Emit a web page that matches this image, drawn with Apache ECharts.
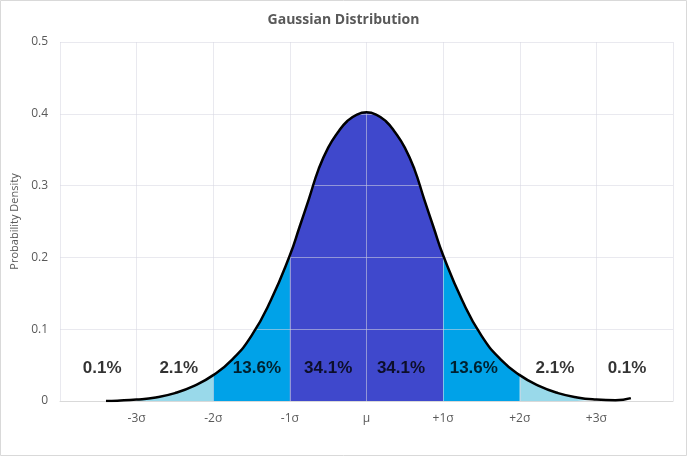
<!DOCTYPE html>
<html>
<head>
<meta charset="utf-8">
<script src="https://cdn.jsdelivr.net/npm/echarts@6/dist/echarts.min.js"></script>
<style>
    html, body { margin: 0; padding: 0; background: #fff; }
    #chart { width: 687px; height: 456px; }
</style>
</head>
<body>
<div id="chart"></div>
<script>
// curve points (x in sigma units)
var curveX = [-3.4, -3.25, -3, -2.75, -2.5, -2.25, -2, -1.75, -1.5, -1.25,
              -1, -0.875, -0.75, -0.625, -0.5, -0.375, -0.25, -0.125, 0,
              0.125, 0.25, 0.375, 0.5, 0.625, 0.75, 0.875, 1,
              1.25, 1.5, 1.75, 2, 2.25, 2.5, 2.75, 3, 3.25, 3.45];
var curveY = [0.000, 0.0005, 0.002, 0.005, 0.011, 0.021, 0.036, 0.058, 0.091, 0.140,
              0.203, 0.242, 0.282, 0.323, 0.353, 0.374, 0.390, 0.399, 0.402,
              0.399, 0.390, 0.374, 0.353, 0.323, 0.282, 0.242, 0.203,
              0.140, 0.091, 0.058, 0.036, 0.021, 0.011, 0.005, 0.002, 0.001, 0.004];

// shaded bands
var bandFrom = [-3, -2, -1, 1, 2];
var bandTo   = [-2, -1, 1, 2, 3];

// percentage labels
var pctText = ['0.1%', '2.1%', '13.6%', '34.1%', '34.1%', '13.6%', '2.1%', '0.1%'];
var pctX    = [-3.45, -2.45, -1.43, -0.5, 0.45, 1.4, 2.46, 3.4];
var pctY    = [0.045, 0.045, 0.045, 0.045, 0.045, 0.045, 0.045, 0.045];

// x tick labels
var tickVal   = [-3, -2, -1, 0, 1, 2, 3];
var tickLabel = ['-3σ', '-2σ', '-1σ', 'μ', '+1σ', '+2σ', '+3σ'];

var bandColor = ['#99D9EA', '#00A2E8', '#3F48CC', '#00A2E8', '#99D9EA'];
var font = '"Open Sans", sans-serif';

function initChart() {
    var chart = echarts.init(document.getElementById('chart'));

    var curve = curveX.map(function (x, i) { return [x, curveY[i]]; });

    var series = [];
    bandFrom.forEach(function (a, k) {
        var b = bandTo[k];
        series.push({
            type: 'line',
            z: 2,
            smooth: true,
            symbol: 'none',
            silent: true,
            lineStyle: { width: 0 },
            areaStyle: { color: bandColor[k], opacity: 1 },
            data: curve.filter(function (p) { return p[0] >= a && p[0] <= b; })
        });
    });

    series.push({
        type: 'line',
        z: 4,
        smooth: true,
        symbol: 'none',
        lineStyle: { color: '#000', width: 2.5 },
        data: curve
    });

    series.push({
        type: 'scatter',
        z: 5,
        symbolSize: 0,
        silent: true,
        label: {
            show: true,
            position: 'inside',
            fontFamily: 'Arial, "Liberation Sans", sans-serif',
            fontWeight: 'bold',
            fontSize: 17,
            color: '#000',
            formatter: function (p) { return pctText[p.dataIndex]; }
        },
        data: pctX.map(function (x, i) { return [x, pctY[i]]; })
    });

    var option = {
        animation: false,
        backgroundColor: '#fff',
        title: {
            text: 'Gaussian Distribution',
            left: 'center',
            top: 8,
            textStyle: { fontFamily: font, fontSize: 14, fontWeight: 'bold', color: '#595959' }
        },
        grid: { left: 60, right: 14, top: 42, bottom: 55 },
        xAxis: {
            type: 'value',
            min: -4,
            max: 4,
            interval: 1,
            z: 3,
            axisLine: { show: true, lineStyle: { color: '#d9d9d9' } },
            axisTick: { show: false },
            splitLine: { lineStyle: { color: 'rgba(215,215,225,0.55)' } },
            axisLabel: {
                margin: 12,
                fontFamily: font,
                fontSize: 12,
                color: '#595959',
                formatter: function (v) {
                    var i = tickVal.indexOf(v);
                    return i >= 0 ? tickLabel[i] : '';
                }
            }
        },
        yAxis: {
            type: 'value',
            min: 0,
            max: 0.5,
            interval: 0.1,
            z: 3,
            name: 'Probability Density',
            nameLocation: 'middle',
            nameGap: 34,
            nameTextStyle: { fontFamily: font, fontSize: 11, color: '#595959' },
            axisLine: { show: false },
            axisTick: { show: false },
            splitLine: { lineStyle: { color: 'rgba(215,215,225,0.55)' } },
            axisLabel: {
                margin: 12,
                fontFamily: font,
                fontSize: 12,
                color: '#595959',
                formatter: function (v) { return v === 0 ? '0' : v.toFixed(1); }
            }
        },
        graphic: [{
            type: 'rect',
            silent: true,
            shape: { x: 0.5, y: 0.5, width: 686, height: 455 },
            style: { fill: 'none', stroke: '#d9d9d9', lineWidth: 1 }
        }],
        series: series
    };
    chart.setOption(option);
}
initChart();
</script>
</body>
</html>
